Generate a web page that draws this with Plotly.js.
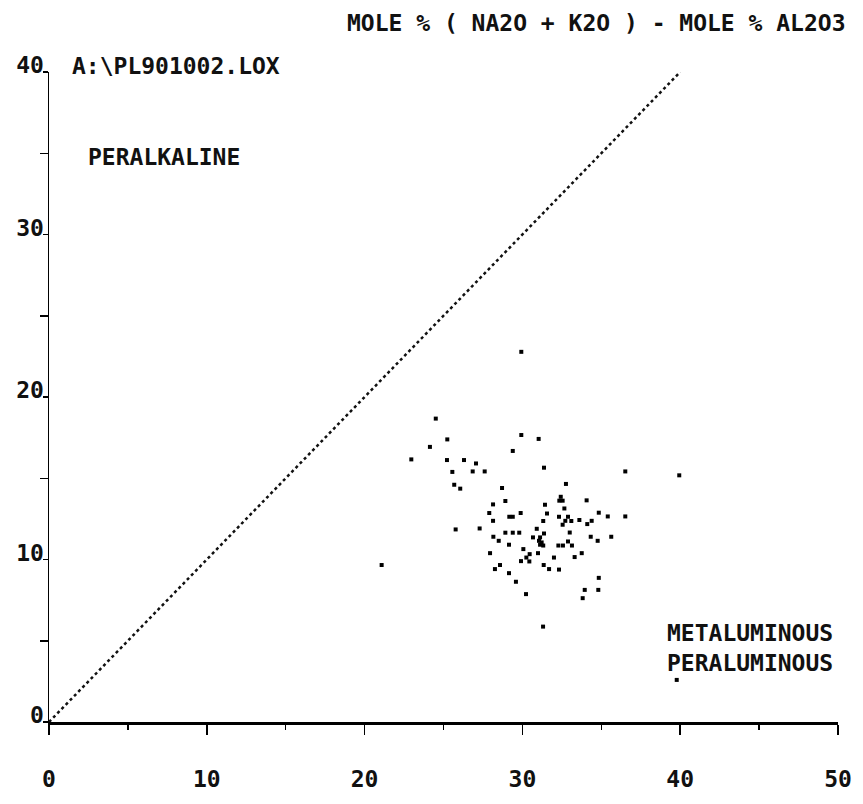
<!DOCTYPE html>
<html>
<head>
<meta charset="utf-8">
<script src="https://cdn.plot.ly/plotly-3.0.1.min.js"></script>
<style>html,body{margin:0;padding:0;background:#fff;}#chart{width:863px;height:804px;}</style>
</head>
<body>
<div id="chart"></div>
<script>
// Sample compositions (x, y)
const xVals = [29.93,24.51,25.24,24.14,22.96,29.93,31.03,29.39,25.22,26.30,27.06,25.56,26.85,27.61,31.37,25.68,26.06,28.71,
  36.52,32.76,32.43,32.34,32.55,28.14,28.92,31.43,34.07,32.66,27.90,29.17,29.39,29.89,31.56,32.32,32.89,32.72,32.55,33.10,
  33.61,34.39,34.11,34.84,35.41,36.52,28.14,31.32,25.77,27.29,28.92,29.39,29.80,30.91,31.37,33.00,28.16,28.50,30.67,
  31.12,31.05,31.22,31.12,31.32,34.33,34.77,35.63,32.28,32.57,32.89,33.14,29.15,27.95,30.06,30.99,30.46,30.25,30.44,29.91,
  32.00,33.31,33.76,28.58,28.26,31.35,31.69,32.32,29.15,29.59,34.84,33.95,34.81,33.82,30.23,31.31,39.94,39.78,21.08];
const yVals = [22.78,18.67,17.39,16.93,16.16,17.66,17.42,16.68,16.12,16.12,15.91,15.39,15.42,15.42,15.65,14.60,14.36,14.40,
  15.42,14.65,13.86,13.62,13.62,13.39,13.60,13.37,13.64,13.14,12.86,12.63,12.63,12.86,12.83,12.63,12.63,12.38,12.14,12.37,
  12.43,12.38,12.18,12.88,12.65,12.65,12.38,12.37,11.85,11.91,11.65,11.65,11.65,11.89,11.60,11.66,11.40,11.15,11.36,
  11.36,11.15,11.05,10.91,10.86,11.40,11.15,11.40,10.86,10.86,11.11,10.86,10.91,10.39,10.64,10.39,10.33,10.12,9.88,9.90,
  10.12,10.15,10.39,9.66,9.41,9.66,9.41,9.38,9.16,8.63,8.87,8.13,8.13,7.62,7.87,5.87,15.18,2.59,9.66];
// Dividing line (peralkaline boundary)
const lineX = [0, 40];
const lineY = [0, 40];
const xTicks = [0, 10, 20, 30, 40, 50];
const xTickText = ["0", "10", "20", "30", "40", "50"];
const yTicks = [0, 10, 20, 30, 40];
const yTickText = ["0", "10", "20", "30", "40"];

const FONT = "DejaVu Sans Mono, Liberation Mono, monospace";
const TF = {family: FONT, size: 23, color: "#111", weight: "bold"};
const traces = [
  {x: lineX, y: lineY, mode: "lines", type: "scatter", line: {color: "#111", width: 2.5, dash: "dot"}, hoverinfo: "skip", cliponaxis: false},
  {x: xVals, y: yVals, mode: "markers", type: "scatter", marker: {symbol: "square", size: 4, color: "#000"}}
];
const layout = {
  width: 863, height: 804,
  margin: {l: 49, r: 25, t: 72, b: 82},
  paper_bgcolor: "#fff", plot_bgcolor: "#fff",
  showlegend: false,
  font: TF,
  xaxis: {
    range: [0, 50], tickvals: xTicks, ticktext: xTickText,
    showgrid: false, zeroline: false, showline: true, linecolor: "#000", linewidth: 3,
    ticks: "outside", ticklen: 10, tickwidth: 1.5, tickcolor: "#000",
    ticklabelstandoff: 24,
    minor: {tickvals: [5, 15, 25, 35, 45], ticks: "outside", ticklen: 5, tickwidth: 1.5, tickcolor: "#000"},
    tickfont: TF
  },
  yaxis: {
    range: [0, 40], tickvals: yTicks, ticktext: yTickText,
    showgrid: false, zeroline: false, showline: true, linecolor: "#000", linewidth: 1.5,
    ticks: "outside", ticklen: 5, tickwidth: 1.5, tickcolor: "#000",
    ticklabelshift: -7, ticklabelstandoff: -6,
    minor: {tickvals: [5, 15, 25, 35], ticks: "outside", ticklen: 8, tickwidth: 1.5, tickcolor: "#000"},
    tickfont: TF
  },
  annotations: [
    {text: "MOLE % ( NA2O + K2O ) - MOLE % AL2O3", xref: "paper", yref: "paper", x: 1.013, y: 1.075, xanchor: "right", yanchor: "middle", showarrow: false, font: TF},
    {text: "A:\\PL901002.LOX", xref: "paper", yref: "paper", x: 0.0266, y: 1.009, xanchor: "left", yanchor: "middle", showarrow: false, font: TF},
    {text: "PERALKALINE", xref: "paper", yref: "paper", x: 0.047, y: 0.869, xanchor: "left", yanchor: "middle", showarrow: false, font: TF},
    {text: "METALUMINOUS<br>PERALUMINOUS", xref: "paper", yref: "paper", x: 0.781, y: 0.114, xanchor: "left", yanchor: "middle", align: "left", showarrow: false, font: TF}
  ]
};
Plotly.newPlot("chart", traces, layout, {displayModeBar: false, staticPlot: true});
</script>
</body>
</html>
